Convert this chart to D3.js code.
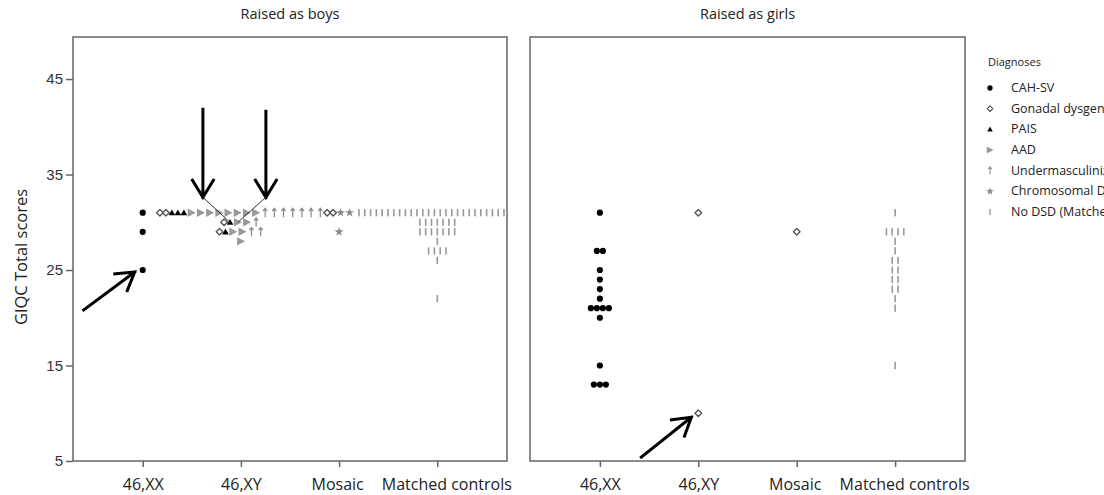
<!DOCTYPE html>
<html><head><meta charset="utf-8">
<script src="https://cdn.jsdelivr.net/npm/d3@7"></script>
<style>body{margin:0;background:#fff}svg{display:block}</style>
</head><body><svg id="c" width="1104" height="495"></svg>
<script>
// ---------- data ----------
const categories = ["46,XX", "46,XY", "Mosaic", "Matched controls"];
const panelTitles = ["Raised as boys", "Raised as girls"];
const diagnoses = ["CAH-SV", "Gonadal dysgenesis", "PAIS", "AAD", "Undermasculinization", "Chromosomal DSD", "No DSD (Matched controls)"];
const yTicks = [5, 15, 25, 35, 45];
const yLabel = "GIQC Total scores";
const legendTitle = "Diagnoses";
// rows: [category, GIQC score, diagnosis index, number of persons]
const boysPoints = [
  ["46,XX", 31, 0, 1], ["46,XX", 29, 0, 1], ["46,XX", 25, 0, 1],
  ["46,XY", 31, 1, 2], ["46,XY", 31, 2, 3], ["46,XY", 31, 3, 8], ["46,XY", 31, 4, 7],
  ["46,XY", 30, 1, 1], ["46,XY", 30, 2, 1], ["46,XY", 30, 3, 2], ["46,XY", 30, 4, 1],
  ["46,XY", 29, 1, 1], ["46,XY", 29, 2, 1], ["46,XY", 29, 3, 2], ["46,XY", 29, 4, 2],
  ["46,XY", 28, 3, 1],
  ["Mosaic", 31, 1, 2], ["Mosaic", 31, 5, 2], ["Mosaic", 29, 5, 1],
  ["Matched controls", 31, 6, 28], ["Matched controls", 30, 6, 7], ["Matched controls", 29, 6, 7],
  ["Matched controls", 28, 6, 1], ["Matched controls", 27, 6, 4], ["Matched controls", 26, 6, 1],
  ["Matched controls", 22, 6, 1]
];
const girlsPoints = [
  ["46,XX", 31, 0, 1], ["46,XX", 27, 0, 2], ["46,XX", 25, 0, 1], ["46,XX", 24, 0, 1],
  ["46,XX", 23, 0, 1], ["46,XX", 22, 0, 1], ["46,XX", 21, 0, 4], ["46,XX", 20, 0, 1],
  ["46,XX", 15, 0, 1], ["46,XX", 13, 0, 3],
  ["46,XY", 31, 1, 1], ["46,XY", 10, 1, 1],
  ["Mosaic", 29, 1, 1],
  ["Matched controls", 31, 6, 1], ["Matched controls", 29, 6, 4], ["Matched controls", 28, 6, 1],
  ["Matched controls", 27, 6, 1], ["Matched controls", 26, 6, 2], ["Matched controls", 25, 6, 2],
  ["Matched controls", 24, 6, 2], ["Matched controls", 23, 6, 2], ["Matched controls", 22, 6, 1],
  ["Matched controls", 21, 6, 1], ["Matched controls", 15, 6, 1]
];
const panelData = [boysPoints, girlsPoints];

// ---------- layout / style ----------
const svg = d3.select("#c");
const font = "'Open Sans', 'DejaVu Sans', sans-serif";
const y = d3.scaleLinear().domain([5, 49.4]).range([461, 37]);
const panelRanges = [[73, 507], [530, 965]];
const symbolWidth = [6, 6, 6, 9.2, 9.2, 9, 5.8];

function drawSymbol(g, k) {
  if (k === 0) g.append("circle").attr("r", 3.1).attr("fill", "#000");
  else if (k === 1) g.append("path").attr("d", "M0,-3.3L3.3,0L0,3.3L-3.3,0Z")
    .attr("fill", "#fff").attr("stroke", "#555").attr("stroke-width", 1.4).attr("stroke-linejoin", "round");
  else if (k === 2) g.append("path").attr("d", "M0,-3.2L3.3,2.6L-3.3,2.6Z").attr("fill", "#000");
  else if (k === 3) g.append("path").attr("d", "M-3.8,-4.2L4.2,0L-3.8,4.2Z").attr("fill", "#999");
  else if (k === 4) {
    g.append("path").attr("d", "M0,4.5V-4M-2.1,-1.6L0,-4.4L2.1,-1.6").attr("fill", "none")
      .attr("stroke", "#888").attr("stroke-width", 1.2);
  } else if (k === 5) g.append("path").attr("d", d3.symbol(d3.symbolStar, 26)()).attr("fill", "#888");
  else if (k === 6) g.append("rect").attr("x", -0.8).attr("y", -3.6).attr("width", 1.6).attr("height", 7.2).attr("fill", "#999");
}

panelData.forEach((rows, p) => {
  const [x0, x1] = panelRanges[p];
  const x = d3.scalePoint().domain(categories).range([x0, x1]).padding(0.71);
  const g = svg.append("g");
  const clipId = "clip" + p;
  svg.append("clipPath").attr("id", clipId).append("rect")
    .attr("x", x0).attr("y", y.range()[1]).attr("width", x1 - x0).attr("height", y.range()[0] - y.range()[1]);

  // dodge points horizontally within each (category, score) row
  const groups = d3.group(rows, r => r[0] + "|" + r[1]);
  const pts = [];
  groups.forEach(list => {
    const items = [];
    list.slice().sort((a, b) => a[2] - b[2]).forEach(r => { for (let i = 0; i < r[3]; i++) items.push(r); });
    const total = d3.sum(items, r => symbolWidth[r[2]]);
    let cx = x(items[0][0]) - total / 2;
    items.forEach(r => {
      const w = symbolWidth[r[2]];
      pts.push({ x: cx + w / 2, y: y(r[1]), k: r[2] });
      cx += w;
    });
  });
  const pg = g.append("g").attr("clip-path", `url(#${clipId})`);
  pts.forEach(d => drawSymbol(pg.append("g").attr("transform", `translate(${d.x},${d.y})`), d.k));

  // frame
  g.append("rect").attr("x", x0).attr("y", y.range()[1]).attr("width", x1 - x0)
    .attr("height", y.range()[0] - y.range()[1]).attr("fill", "none").attr("stroke", "#666").attr("stroke-width", 1.5);

  // x axis
  const xa = g.append("g").attr("transform", `translate(0,${y.range()[0]})`)
    .call(d3.axisBottom(x).tickSize(6).tickPadding(12));
  xa.select(".domain").remove();
  xa.selectAll("line").attr("stroke", "#666").attr("stroke-width", 1.5);
  xa.selectAll("text").attr("font-family", font).attr("font-size", 16).attr("fill", "#222")
    .attr("dx", (d, i) => i === categories.length - 1 ? 9 : (i === 2 ? -2 : 0));

  // title
  g.append("text").attr("x", (x0 + x1) / 2).attr("y", 19).attr("text-anchor", "middle")
    .attr("font-family", font).attr("font-size", 14.5).attr("fill", "#222").text(panelTitles[p]);

  if (p === 0) {
    const ya = g.append("g").attr("transform", `translate(${x0},0)`)
      .call(d3.axisLeft(y).tickValues(yTicks).tickSize(7).tickPadding(3));
    ya.select(".domain").remove();
    ya.selectAll("line").attr("stroke", "#666").attr("stroke-width", 1.5);
    ya.selectAll("text").attr("font-family", "'Liberation Sans', Arial, sans-serif").attr("font-size", 15).attr("fill", "#333");
  }

  // annotation arrows
  const arrow = (tx, ty, fx, fy) => {
    const ang = Math.atan2(ty - fy, tx - fx), L = 20, a = 0.55;
    const h1 = [tx - L * Math.cos(ang - a), ty - L * Math.sin(ang - a)];
    const h2 = [tx - L * Math.cos(ang + a), ty - L * Math.sin(ang + a)];
    g.append("path").attr("d", `M${fx},${fy}L${tx},${ty}M${h1}L${tx},${ty}L${h2}`)
      .attr("fill", "none").attr("stroke", "#000").attr("stroke-width", 3).attr("stroke-linecap", "square");
  };
  if (p === 0) {
    const ax = x("46,XX"), ay = y(25);
    arrow(ax - 8, ay + 2, ax - 59, ay + 40);
    const bx = x("46,XY"), by = y(30);
    arrow(bx - 38, by - 25, bx - 38, by - 113);
    arrow(bx + 25, by - 25, bx + 25, by - 111);
    g.append("path").attr("d", `M${bx - 38},${by - 25}L${bx - 11},${by}M${bx + 25},${by - 25}L${bx - 3},${by}`)
      .attr("stroke", "#333").attr("stroke-width", 1).attr("fill", "none");
  } else {
    const ax = x("46,XY"), ay = y(10);
    arrow(ax - 7, ay + 4, ax - 57, ay + 44);
  }
});

// y label
svg.append("text").attr("transform", "translate(27,257) rotate(-90)").attr("text-anchor", "middle")
  .attr("font-family", font).attr("font-size", 16.5).attr("fill", "#222").text(yLabel);

// legend
const lg = svg.append("g");
lg.append("text").attr("x", 988).attr("y", 66).attr("font-family", font).attr("font-size", 11).attr("fill", "#222").text(legendTitle);
const legendY = d3.scalePoint().domain(d3.range(diagnoses.length)).range([88, 212]);
diagnoses.forEach((name, k) => {
  const yy = legendY(k);
  drawSymbol(lg.append("g").attr("transform", `translate(990,${yy}) scale(0.85)`), k);
  lg.append("text").attr("x", 1011).attr("y", yy + 4).attr("font-family", font).attr("font-size", 12.5)
    .attr("fill", "#222").text(name);
});
</script></body></html>
